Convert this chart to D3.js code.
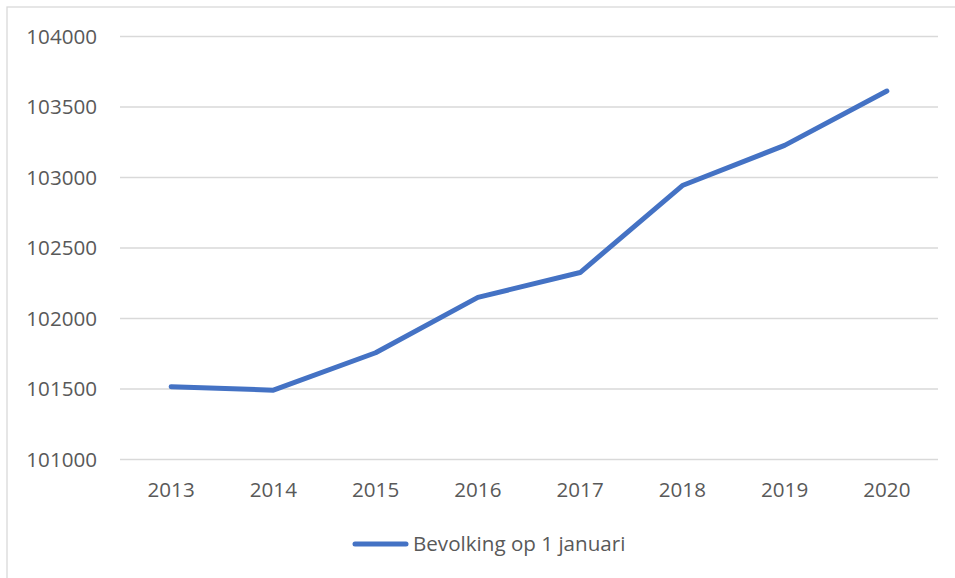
<!DOCTYPE html>
<html>
<head>
<meta charset="utf-8">
<script src="https://cdn.jsdelivr.net/npm/d3@7"></script>
<style>
  body { margin: 0; background: #fff; }
  svg text { font-family: "Open Sans", sans-serif; fill: #595959; }
</style>
</head>
<body>
<div id="chart"></div>
<script>
// population on 1 January
var years = ["2013", "2014", "2015", "2016", "2017", "2018", "2019", "2020"];
var population = [101516, 101492, 101757, 102150, 102326, 102943, 103228, 103613];
var yTicks = [101000, 101500, 102000, 102500, 103000, 103500, 104000];
var seriesName = "Bevolking op 1 januari";

var width = 955, height = 578;
var lineColor = "#4472C4";
var fontSize = "20.6px";

var svg = d3.select("#chart").append("svg")
    .attr("width", width)
    .attr("height", height);

// chart frame (right / bottom edges fall outside the picture)
svg.append("rect")
    .attr("x", 7).attr("y", 7)
    .attr("width", width + 20).attr("height", height + 20)
    .style("fill", "none")
    .style("stroke", "#d9d9d9")
    .style("stroke-width", "1.3px");

var x = d3.scalePoint()
    .domain(years)
    .range([120, 938])
    .padding(0.5);

var y = d3.scaleLinear()
    .domain([101000, 104000])
    .range([459.5, 36.5]);

// gridlines
svg.append("g")
    .selectAll("line")
    .data(yTicks)
    .enter()
    .append("line")
    .attr("x1", 120)
    .attr("x2", 938)
    .attr("y1", d => y(d))
    .attr("y2", d => y(d))
    .style("stroke", "#d9d9d9")
    .style("stroke-width", "1.3px");

// y labels
svg.append("g")
    .selectAll("text")
    .data(yTicks)
    .enter()
    .append("text")
    .attr("x", 97)
    .attr("y", d => y(d))
    .attr("dy", "0.35em")
    .attr("text-anchor", "end")
    .style("font-size", fontSize)
    .text(d => d);

// x labels
svg.append("g")
    .selectAll("text")
    .data(years)
    .enter()
    .append("text")
    .attr("x", d => x(d))
    .attr("y", 490)
    .attr("dy", "0.35em")
    .attr("text-anchor", "middle")
    .style("font-size", fontSize)
    .text(d => d);

var line = d3.line()
    .x((d, i) => x(years[i]))
    .y(d => y(d));

svg.append("path")
    .datum(population)
    .attr("d", line)
    .style("fill", "none")
    .style("stroke", lineColor)
    .style("stroke-width", "5px")
    .style("stroke-linecap", "round")
    .style("stroke-linejoin", "round");

// legend
var legend = svg.append("g").attr("class", "legend");
legend.append("line")
    .attr("x1", 355).attr("x2", 406)
    .attr("y1", 544).attr("y2", 544)
    .style("stroke", lineColor)
    .style("stroke-width", "5px")
    .style("stroke-linecap", "round");
legend.append("text")
    .attr("x", 413)
    .attr("y", 544)
    .attr("dy", "0.35em")
    .style("font-size", fontSize)
    .text(seriesName);
</script>
</body>
</html>
